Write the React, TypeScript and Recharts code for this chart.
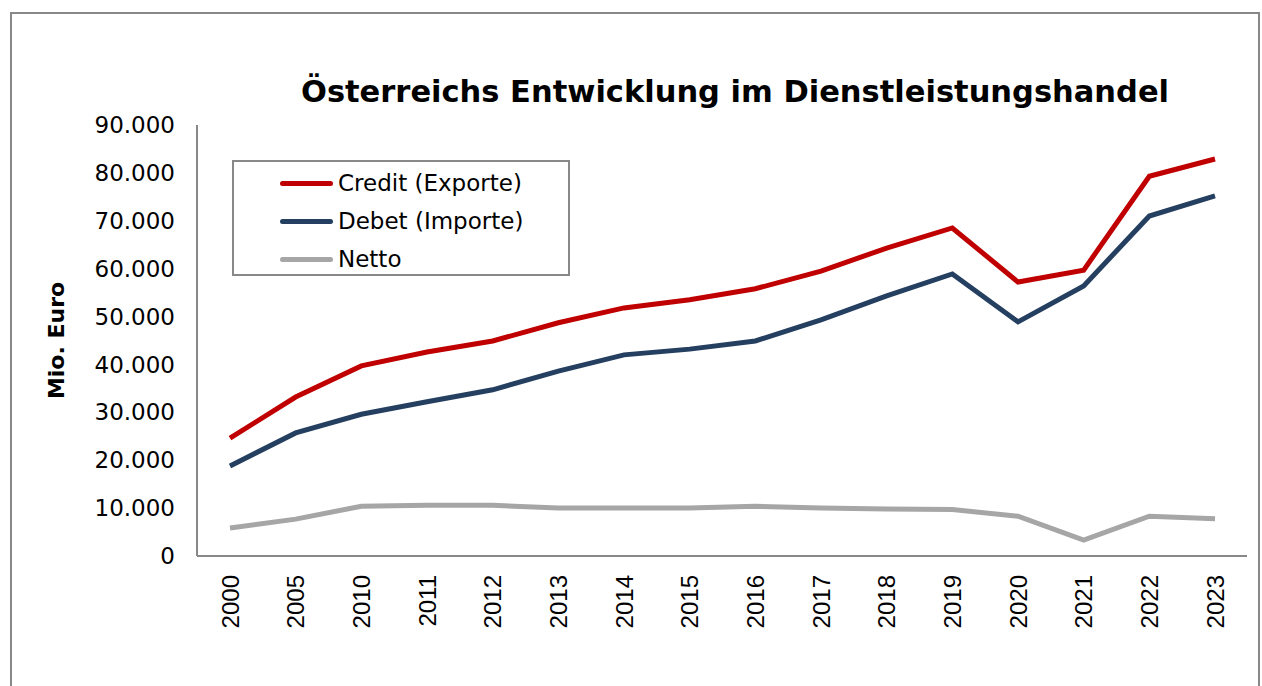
import React from 'react';
import { LineChart, Line, XAxis, YAxis } from 'recharts';

const years = ['2000','2005','2010','2011','2012','2013','2014','2015','2016','2017','2018','2019','2020','2021','2022','2023'];
const credit = [24600,33200,39700,42600,44900,48700,51800,53500,55800,59500,64300,68500,57200,59700,79300,82900];
const debet = [18800,25700,29600,32200,34700,38600,42000,43200,44900,49300,54300,58900,48900,56400,71000,75200];
const netto = [5850,7700,10400,10600,10600,10000,10000,10000,10400,10000,9800,9700,8300,3300,8300,7800];
const yTicks = [0,10000,20000,30000,40000,50000,60000,70000,80000,90000];
const seriesNames = ['Credit (Exporte)', 'Debet (Importe)', 'Netto'];
const seriesColors = ['#C00000', '#243F60', '#A6A6A6'];

const data = years.map((y, i) => ({ year: y, credit: credit[i], debet: debet[i], netto: netto[i] }));

const FONT = '"DejaVu Sans", Verdana, sans-serif';

const fmt = (v: number) => (v === 0 ? '0' : v.toLocaleString('de-DE'));

const XTick = (props: any) => {
  const { x, y, payload } = props;
  return (
    <g transform={`translate(${x},${y + 11}) rotate(-90)`}>
      <text x={0} y={0} textAnchor="end" dy="0.36em" fill="#000" fontSize={24} fontFamily='"Liberation Sans", Arial, sans-serif'>
        {payload.value}
      </text>
    </g>
  );
};

const LegendBox = () => (
  <div style={{ position: 'absolute', left: 232, top: 160, width: 338, height: 116, border: '2px solid #888', boxSizing: 'border-box', background: '#fff', paddingTop: 2 }}>
    {seriesNames.map((label, i) => (
      <div key={label} style={{ display: 'flex', alignItems: 'center', height: 38, paddingLeft: 46 }}>
        <div style={{ width: 53, height: 5, borderRadius: 3, background: seriesColors[i], marginRight: 5 }} />
        <span style={{ fontFamily: FONT, fontSize: 23, color: '#000' }}>{label}</span>
      </div>
    ))}
  </div>
);

export default function App() {
  return (
    <div style={{ position: 'absolute', left: 0, top: 0, width: 1262, height: 686, overflow: 'hidden', background: '#fff' }}>
      <div style={{ position: 'absolute', left: 10, top: 12, width: 1246, height: 720, border: '2px solid #888' }} />
      <div style={{ position: 'absolute', left: 0, top: 0 }}>
        <LineChart width={1262} height={686} data={data} margin={{ top: 125, right: 15, bottom: 0, left: 0 }}>
          <XAxis dataKey="year" height={130} tick={<XTick />} tickLine={false} axisLine={{ stroke: '#888', strokeWidth: 2 }} interval={0} padding={{ left: 33, right: 32 }} />
          <YAxis
            width={197}
            domain={[0, 90000]}
            ticks={yTicks}
            tickFormatter={fmt}
            tickLine={false}
            axisLine={{ stroke: '#888', strokeWidth: 2 }}
            tick={{ fill: '#000', fontSize: 23, fontFamily: FONT, dx: -14 }}
            label={{ value: 'Mio. Euro', angle: -90, position: 'insideLeft', offset: 56, style: { fontFamily: FONT, fontWeight: 'bold', fontSize: 22, fill: '#000', textAnchor: 'middle' } }}
          />
          <Line type="linear" dataKey="credit" name={seriesNames[0]} stroke={seriesColors[0]} strokeWidth={5} dot={false} isAnimationActive={false} />
          <Line type="linear" dataKey="debet" name={seriesNames[1]} stroke={seriesColors[1]} strokeWidth={5} dot={false} isAnimationActive={false} />
          <Line type="linear" dataKey="netto" name={seriesNames[2]} stroke={seriesColors[2]} strokeWidth={5} dot={false} isAnimationActive={false} />
        </LineChart>
      </div>
      <LegendBox />
      <div style={{ position: 'absolute', left: 200, width: 1070, top: 74, textAlign: 'center', fontFamily: FONT, fontWeight: 'bold', fontSize: 30.5, color: '#000' }}>
        Österreichs Entwicklung im Dienstleistungshandel
      </div>
    </div>
  );
}
